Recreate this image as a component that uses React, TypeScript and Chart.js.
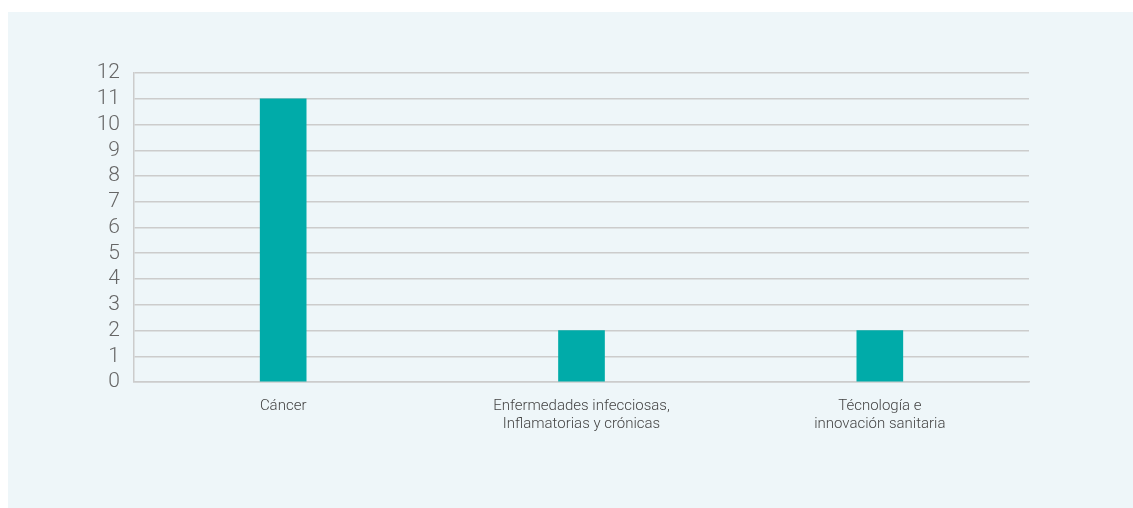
import React, { useEffect, useRef } from "react";
import { Chart, registerables } from "chart.js";

Chart.register(...registerables);

const categories: string[][] = [
  ["Cáncer"],
  ["Enfermedades infecciosas,", "Inflamatorias y crónicas"],
  ["Técnología e", "innovación sanitaria"],
];
const values: number[] = [11, 2, 2];
const yMin = 0;
const yMax = 12;
const yStep = 1;

export default function App() {
  const ref = useRef<HTMLCanvasElement | null>(null);
  useEffect(() => {
    if (!ref.current) return;
    const chart = new Chart(ref.current, {
      type: "bar",
      data: {
        labels: categories,
        datasets: [
          {
            data: values,
            backgroundColor: "#00aba9",
            barThickness: 46,
            borderWidth: 0,
          },
        ],
      },
      options: {
        animation: false,
        responsive: false,
        maintainAspectRatio: false,
        layout: { padding: { left: 0, top: 61, right: 104, bottom: 0 } },
        plugins: { legend: { display: false }, tooltip: { enabled: false } },
        scales: {
          x: {
            grid: { display: false, drawTicks: false },
            border: { color: "#cccccc", width: 1.5 },
            ticks: {
              color: "#444444",
              padding: 15,
              maxRotation: 0,
              autoSkip: false,
              font: { family: "Roboto", size: 15, weight: "300", lineHeight: 1.2 },
            },
            afterFit: (s: any) => {
              s.height = 126;
            },
          },
          y: {
            min: yMin,
            max: yMax,
            grid: { color: "#cccccc", lineWidth: 1.5, drawTicks: false },
            border: { color: "#cccccc", width: 1.5 },
            ticks: {
              stepSize: yStep,
              autoSkip: false,
              color: "#666666",
              padding: 14,
              font: { family: "Roboto", size: 21, weight: "300" },
            },
            afterFit: (s: any) => {
              s.width = 126;
            },
          },
        },
      },
    });
    return () => chart.destroy();
  }, []);
  return (
    <div
      style={{
        position: "fixed",
        left: 8,
        top: 12,
        width: 1125,
        height: 496,
        background: "#eef6f9",
      }}
    >
      <canvas ref={ref} width={1125} height={496} style={{ display: "block" }} />
    </div>
  );
}
